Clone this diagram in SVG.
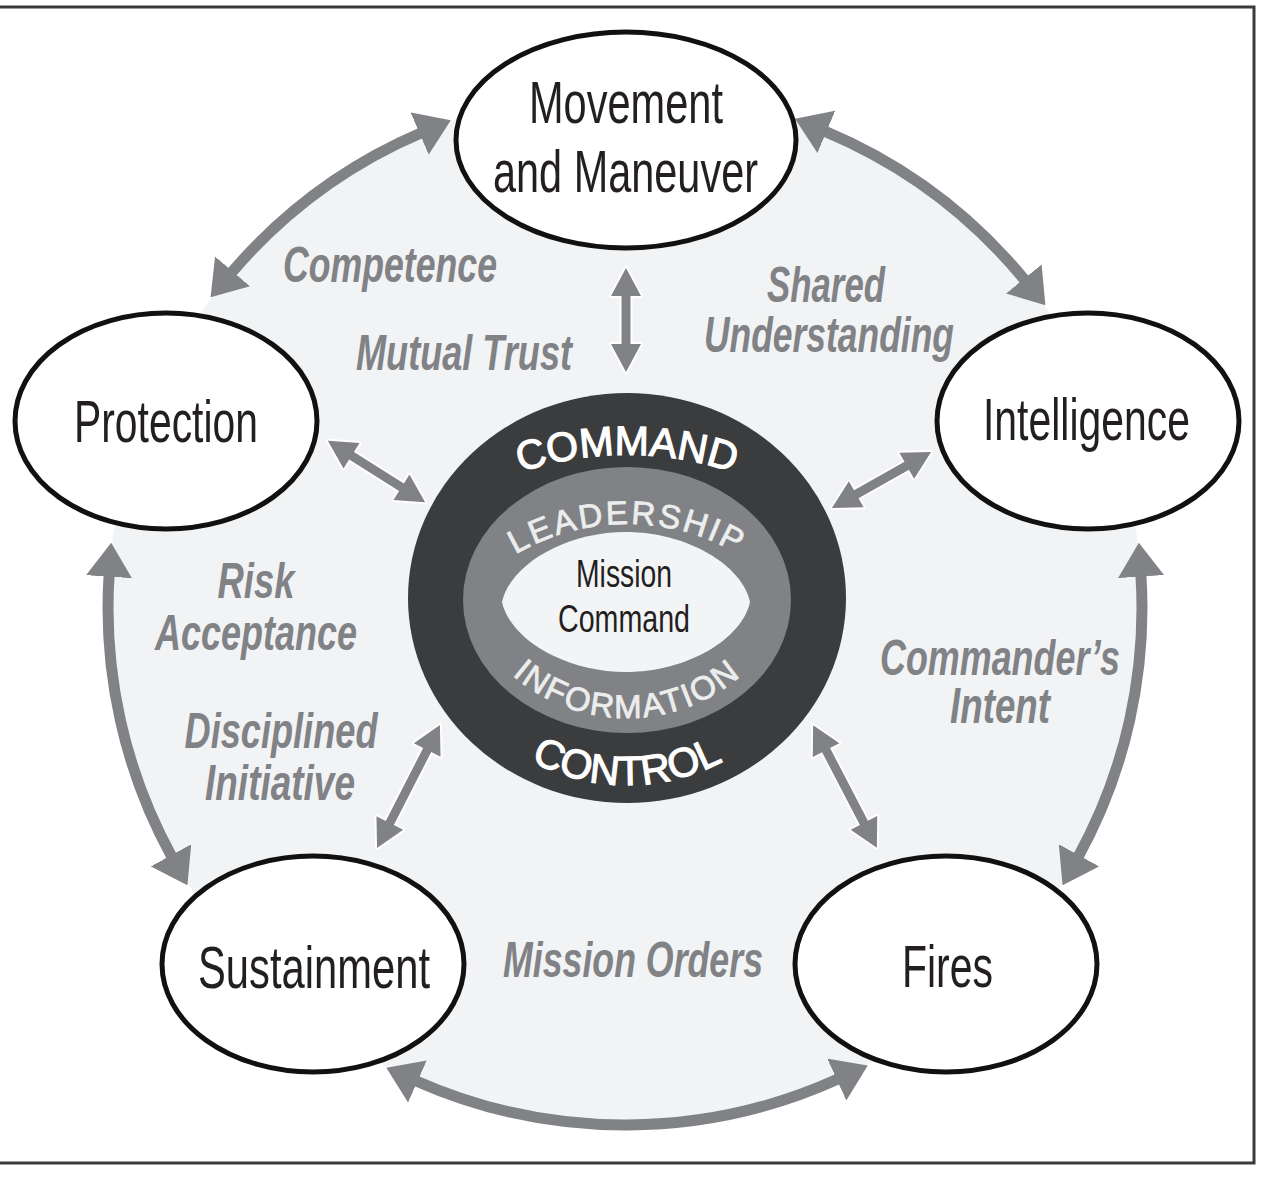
<svg xmlns="http://www.w3.org/2000/svg" xmlns:xlink="http://www.w3.org/1999/xlink" width="1287" height="1200" viewBox="0 0 1287 1200">
<style>
.node ellipse{fill:#fff;stroke:#111;stroke-width:5}
.ntxt{font-family:"Liberation Sans",Arial,sans-serif;font-size:60px;fill:#231f20;text-anchor:middle}
.lbl{font-family:"Liberation Sans",Arial,sans-serif;font-size:50px;font-weight:bold;font-style:italic;fill:#808285;text-anchor:middle}
.ring{fill:none;stroke:#808285;stroke-width:11}
.inarr{fill:#808285;stroke:#fff;stroke-width:4;paint-order:stroke;stroke-linejoin:round}
.ctxt{font-family:"Liberation Sans",Arial,sans-serif;text-anchor:middle}
</style>
<defs>
<marker id="ah" viewBox="0 0 34 46" markerUnits="userSpaceOnUse" markerWidth="34" markerHeight="46" refX="2" refY="23" orient="auto-start-reverse">
<path d="M0,0 L34,23 L0,46 Z" fill="#808285"/>
</marker>
<path id="pCmd" d="M293,789 A334,334 0 0,1 961,789"/>
<path id="pLead" d="M407,744 A220,220 0 0,1 847,744"/>
<path id="pInfo" d="M452,543 A175,175 0 0,0 802,543"/>
<path id="pCtrl" d="M421,579 A206,206 0 0,0 833,579"/>
</defs>
<rect width="1287" height="1200" fill="#fff"/>
<path d="M0,7 H1254 V1163 H0" fill="none" stroke="#3a3a3a" stroke-width="3"/>
<circle cx="625" cy="608" r="517" fill="#f2f3f5"/>

<g id="connectors">
<path class="ring" d="M231.3,272.9 A517,517 0 0,1 421.4,132.8" marker-start="url(#ah)" marker-end="url(#ah)"/>
<path class="ring" d="M824.5,131.1 A517,517 0 0,1 1025.1,280.5" marker-start="url(#ah)" marker-end="url(#ah)"/>
<path class="ring" d="M1140.9,574.6 A517,517 0 0,1 1078.0,857.1" marker-start="url(#ah)" marker-end="url(#ah)"/>
<path class="ring" d="M838.6,1078.8 A517,517 0 0,1 415.6,1080.7" marker-start="url(#ah)" marker-end="url(#ah)"/>
<path class="ring" d="M172.0,857.1 A517,517 0 0,1 109.1,574.7" marker-start="url(#ah)" marker-end="url(#ah)"/>
<path class="inarr" transform="translate(626,320) rotate(90)" d="M-52,0 L-24,-15 L-24,-4.5 L24,-4.5 L24,-15 L52,0 L24,15 L24,4.5 L-24,4.5 L-24,15Z"/>
<path class="inarr" transform="translate(376.5,471.5) rotate(32.2)" d="M-57.5,0 L-29.5,-15 L-29.5,-4.5 L29.5,-4.5 L29.5,-15 L57.5,0 L29.5,15 L29.5,4.5 L-29.5,4.5 L-29.5,15Z"/>
<path class="inarr" transform="translate(881.5,480) rotate(-29.5)" d="M-57,0 L-29,-15 L-29,-4.5 L29,-4.5 L29,-15 L57,0 L29,15 L29,4.5 L-29,4.5 L-29,15Z"/>
<path class="inarr" transform="translate(408.5,786.5) rotate(-62.9)" d="M-69,0 L-41,-15 L-41,-4.5 L41,-4.5 L41,-15 L69,0 L41,15 L41,4.5 L-41,4.5 L-41,15Z"/>
<path class="inarr" transform="translate(845,786.5) rotate(62.5)" d="M-69,0 L-41,-15 L-41,-4.5 L41,-4.5 L41,-15 L69,0 L41,15 L41,4.5 L-41,4.5 L-41,15Z"/>
</g>

<g id="labels">
<text class="lbl" x="390" y="282" textLength="214" lengthAdjust="spacingAndGlyphs">Competence</text>
<text class="lbl" x="464" y="370" textLength="216" lengthAdjust="spacingAndGlyphs">Mutual Trust</text>
<text class="lbl" x="826" y="302" textLength="118" lengthAdjust="spacingAndGlyphs">Shared</text>
<text class="lbl" x="829" y="352" textLength="250" lengthAdjust="spacingAndGlyphs">Understanding</text>
<text class="lbl" x="256" y="598" textLength="77" lengthAdjust="spacingAndGlyphs">Risk</text>
<text class="lbl" x="256" y="650" textLength="202" lengthAdjust="spacingAndGlyphs">Acceptance</text>
<text class="lbl" x="281" y="748" textLength="193" lengthAdjust="spacingAndGlyphs">Disciplined</text>
<text class="lbl" x="280" y="800" textLength="150" lengthAdjust="spacingAndGlyphs">Initiative</text>
<text class="lbl" x="1000" y="675" textLength="240" lengthAdjust="spacingAndGlyphs">Commander’s</text>
<text class="lbl" x="1000" y="723" textLength="100" lengthAdjust="spacingAndGlyphs">Intent</text>
<text class="lbl" x="633" y="977" textLength="260" lengthAdjust="spacingAndGlyphs">Mission Orders</text>
</g>

<g id="mission-command">
<ellipse cx="627" cy="598" rx="219" ry="205" fill="#3b3c3e"/>
<ellipse cx="627" cy="600" rx="164" ry="133" fill="#808285"/>
<path d="M502,602 C510,565 565,532 626,532 C687,532 742,565 750,602 C742,639 687,672 626,672 C565,672 510,639 502,602 Z" fill="#f3f4f6"/>
<text class="ctxt" font-size="41" fill="#fff" stroke="#fff" stroke-width="1.2"><textPath href="#pCmd" xlink:href="#pCmd" startOffset="50%">COMMAND</textPath></text>
<text class="ctxt" font-size="33" letter-spacing="2.5" fill="#eceded" stroke="#eceded" stroke-width="0.8"><textPath href="#pLead" xlink:href="#pLead" startOffset="50%">LEADERSHIP</textPath></text>
<text class="ctxt" font-size="33" letter-spacing="2" fill="#eceded" stroke="#eceded" stroke-width="0.8"><textPath href="#pInfo" xlink:href="#pInfo" startOffset="50%">INFORMATION</textPath></text>
<text class="ctxt" font-size="41" fill="#fff" stroke="#fff" stroke-width="1.2"><textPath href="#pCtrl" xlink:href="#pCtrl" startOffset="50%">CONTROL</textPath></text>
<text class="ctxt" x="624" y="587" font-size="38" fill="#231f20" textLength="96" lengthAdjust="spacingAndGlyphs">Mission</text>
<text class="ctxt" x="624" y="632" font-size="38" fill="#231f20" textLength="132" lengthAdjust="spacingAndGlyphs">Command</text>
</g>

<g id="movement" class="node">
<ellipse cx="626" cy="140" rx="170" ry="108"/>
<text class="ntxt" x="626" y="123" textLength="194" lengthAdjust="spacingAndGlyphs">Movement</text>
<text class="ntxt" x="625.5" y="192" textLength="265" lengthAdjust="spacingAndGlyphs">and Maneuver</text>
</g>
<g id="protection" class="node">
<ellipse cx="166" cy="421" rx="151" ry="108"/>
<text class="ntxt" x="166" y="442" textLength="184" lengthAdjust="spacingAndGlyphs">Protection</text>
</g>
<g id="intelligence" class="node">
<ellipse cx="1088" cy="421" rx="151" ry="108"/>
<text class="ntxt" x="1086.5" y="440" textLength="207" lengthAdjust="spacingAndGlyphs">Intelligence</text>
</g>
<g id="sustainment" class="node">
<ellipse cx="313" cy="964" rx="151" ry="108"/>
<text class="ntxt" x="314" y="988" textLength="232" lengthAdjust="spacingAndGlyphs">Sustainment</text>
</g>
<g id="fires" class="node">
<ellipse cx="946" cy="964" rx="151" ry="108"/>
<text class="ntxt" x="947.5" y="987" textLength="91" lengthAdjust="spacingAndGlyphs">Fires</text>
</g>
</svg>
